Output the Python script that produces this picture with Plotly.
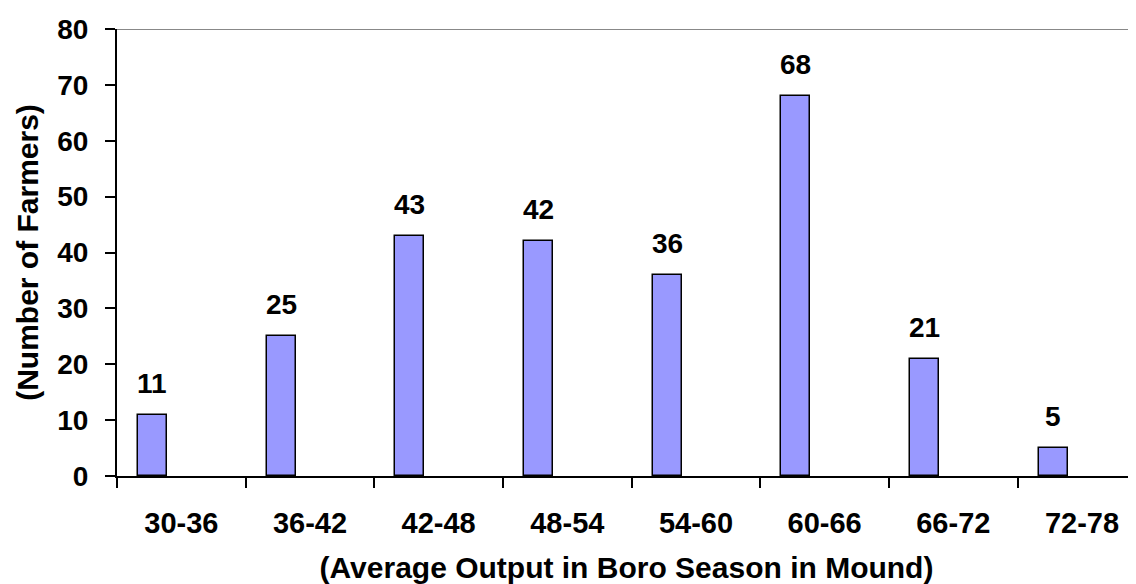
import plotly.graph_objects as go

categories = ["30-36", "36-42", "42-48", "48-54", "54-60", "60-66", "66-72", "72-78"]
farmers = [11, 25, 43, 42, 36, 68, 21, 5]
y_ticks = [0, 10, 20, 30, 40, 50, 60, 70, 80]

BAR_OFFSET = -0.337
BAR_WIDTH = 0.225
FONT = "Liberation Sans, Arial, sans-serif"

fig = go.Figure()
fig.add_trace(go.Bar(
    x=categories, y=farmers,
    width=BAR_WIDTH, offset=BAR_OFFSET,
    marker=dict(color="#9999FF", line=dict(color="black", width=1.5)),
    hoverinfo="x+y",
))

annotations = []
for i, v in enumerate(farmers):
    annotations.append(dict(
        x=i + BAR_OFFSET + BAR_WIDTH / 2, y=v, xref="x", yref="y",
        text=f"<b>{v}</b>", showarrow=False, yanchor="bottom", yshift=14,
        font=dict(family=FONT, size=28, color="black"),
    ))

fig.update_layout(
    width=1128, height=576,
    margin=dict(l=109, r=0, t=21, b=108),
    paper_bgcolor="white", plot_bgcolor="white",
    showlegend=False,
    bargap=0,
    annotations=annotations,
    shapes=[dict(type="line", xref="paper", yref="y", x0=0, x1=1, y0=80, y1=80,
                 line=dict(color="#888888", width=2))],
    xaxis=dict(
        type="category", range=[-0.5, 7.42],
        tickson="boundaries", ticks="outside", ticklen=10, tickwidth=2, tickcolor="black",
        showline=True, linecolor="black", linewidth=2,
        showgrid=False, zeroline=False,
        tickfont=dict(family=FONT, size=29, color="black"),
        ticklabelstandoff=20,
        title=dict(text="<b>(Average Output in Boro Season in Mound)</b>",
                   font=dict(family=FONT, size=30, color="black"), standoff=23),
    ),
    yaxis=dict(
        range=[0, 80], tickvals=y_ticks,
        ticktext=[f"<b>{t}</b>" for t in y_ticks],
        ticks="outside", ticklen=10, tickwidth=2, tickcolor="black",
        showline=True, linecolor="black", linewidth=2,
        showgrid=False, zeroline=False,
        tickfont=dict(family=FONT, size=28, color="black"),
        ticklabelstandoff=11,
        title=dict(text="<b>(Number of Farmers)</b>",
                   font=dict(family=FONT, size=30, color="black"), standoff=10),
    ),
)
fig.update_xaxes(ticktext=[f"<b>{c}</b>" for c in categories], tickvals=categories)

fig.write_html("out.html")
